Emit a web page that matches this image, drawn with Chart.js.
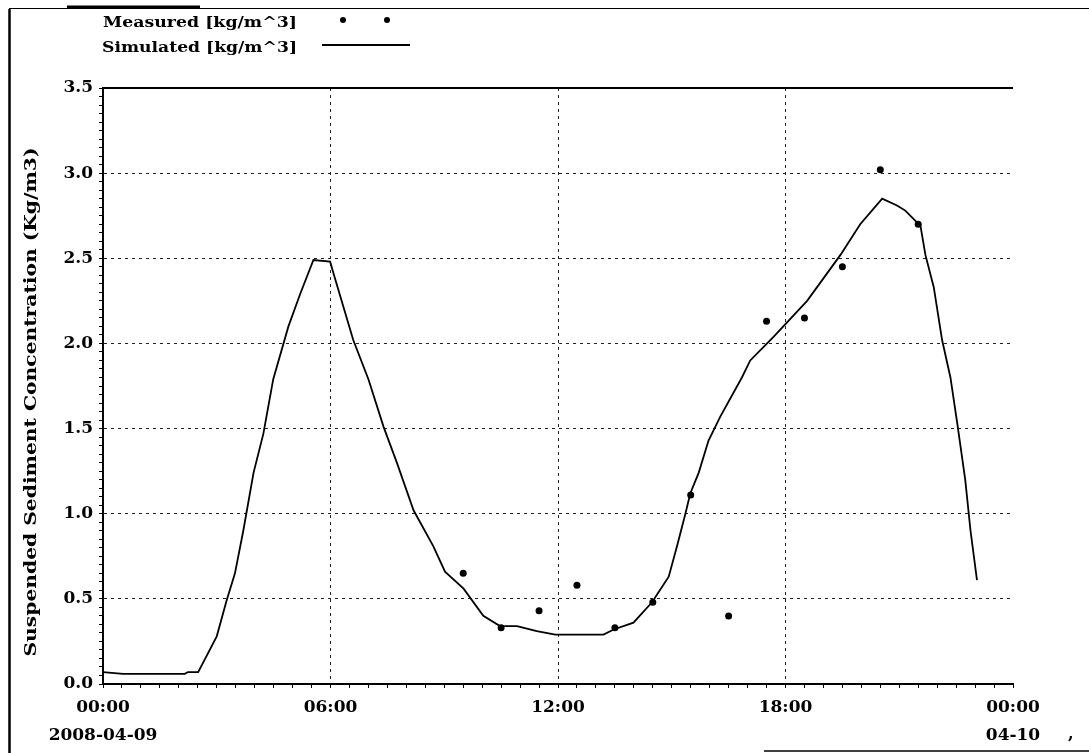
<!DOCTYPE html>
<html><head><meta charset="utf-8">
<script src="https://cdn.jsdelivr.net/npm/chart.js@4/dist/chart.umd.min.js"></script>
<style>html,body{margin:0;padding:0;background:#fff;}canvas{display:block}</style>
</head><body>
<canvas id="c" width="1089" height="753"></canvas>
<script>
// ---- data (hours since 2008-04-09 00:00) ----
const simHours  = [0,0.53,2.16,2.24,2.51,3.00,3.26,3.48,3.70,3.97,4.23,4.49,4.89,5.20,5.55,5.99,6.08,6.60,7.00,7.40,7.75,8.19,8.71,9.02,9.51,10.03,10.47,10.92,11.44,11.93,13.20,13.47,13.99,14.48,14.92,15.14,15.36,15.49,15.71,15.97,16.28,16.85,17.07,17.69,18.57,19.45,19.97,20.55,20.94,21.16,21.56,21.69,21.91,22.13,22.35,22.53,22.74,22.88,23.05];
const simValues = [0.07,0.06,0.06,0.07,0.07,0.28,0.49,0.65,0.90,1.24,1.47,1.79,2.10,2.29,2.49,2.48,2.41,2.02,1.79,1.51,1.30,1.02,0.81,0.66,0.56,0.40,0.34,0.34,0.31,0.29,0.29,0.32,0.36,0.48,0.63,0.81,1.00,1.12,1.24,1.43,1.57,1.80,1.90,2.04,2.25,2.52,2.70,2.85,2.81,2.78,2.69,2.52,2.33,2.02,1.80,1.53,1.20,0.90,0.61];
const measHours  = [9.5,10.5,11.5,12.5,13.5,14.5,15.5,16.5,17.5,18.5,19.5,20.5,21.5];
const measValues = [0.65,0.33,0.43,0.58,0.33,0.48,1.11,0.40,2.13,2.15,2.45,3.02,2.70];
const xTickHours   = [0,6,12,18,24];
const xTimeLabels  = ['00:00','06:00','12:00','18:00','00:00'];
const xDateLabels  = ['2008-04-09','','','','04-10'];
const yTickValues  = [0,0.5,1.0,1.5,2.0,2.5,3.0,3.5];
const yTitle = 'Suspended Sediment Concentration (Kg/m3)';
const seriesNames = ['Measured [kg/m^3]','Simulated [kg/m^3]'];

const FONT = 'DejaVu Serif';
const near = (v, arr) => arr.findIndex(a => Math.abs(a - v) < 1e-6);

function fitText(ctx, text, x, y, width, align) {
  const w = ctx.measureText(text).width;
  const sx = width / w;
  ctx.save();
  ctx.translate(x, y);
  ctx.scale(sx, 1);
  ctx.textAlign = align;
  ctx.fillText(text, 0, 0);
  ctx.restore();
}

const decor = {
  id: 'decor',
  afterDraw(chart) {
    const ctx = chart.ctx, a = chart.chartArea;
    ctx.save();
    ctx.strokeStyle = '#000'; ctx.fillStyle = '#000';
    // top edge of plot
    ctx.lineWidth = 2;
    ctx.beginPath(); ctx.moveTo(a.left - 1, a.top); ctx.lineTo(a.right, a.top); ctx.stroke();
    // outer frame fragments
    ctx.lineWidth = 2.5;
    ctx.beginPath(); ctx.moveTo(9.5, 9); ctx.lineTo(9.5, 753); ctx.stroke();
    ctx.lineWidth = 1;
    ctx.beginPath(); ctx.moveTo(9, 8.5); ctx.lineTo(1089, 8.5); ctx.stroke();
    ctx.lineWidth = 3;
    ctx.beginPath(); ctx.moveTo(67, 7); ctx.lineTo(200, 7); ctx.stroke();
    ctx.lineWidth = 1.5;
    ctx.beginPath(); ctx.moveTo(764, 751); ctx.lineTo(1089, 751); ctx.stroke();
    // y axis title
    ctx.font = 'bold 16px "' + FONT + '"';
    ctx.textBaseline = 'middle';
    ctx.save();
    ctx.translate(32, 402);
    ctx.rotate(-Math.PI / 2);
    fitText(ctx, yTitle, 0, 0, 509, 'center');
    ctx.restore();
    // legend
    ctx.font = 'bold 14px "' + FONT + '"';
    fitText(ctx, seriesNames[0], 297, 23, 194, 'right');
    fitText(ctx, seriesNames[1], 297, 48, 195, 'right');
    [343, 387].forEach(x => { ctx.beginPath(); ctx.arc(x, 20, 3, 0, Math.PI * 2); ctx.fill(); });
    ctx.lineWidth = 2;
    ctx.beginPath(); ctx.moveTo(322, 45); ctx.lineTo(410, 45); ctx.stroke();
    // stray comma
    ctx.font = 'bold 16px "' + FONT + '"';
    ctx.textAlign = 'left';
    ctx.fillText(',', 1068, 735);
    ctx.restore();
  }
};

new Chart(document.getElementById('c'), {
  type: 'scatter',
  data: {
    datasets: [
      {
        label: seriesNames[1],
        data: simHours.map((h, i) => ({x: h, y: simValues[i]})),
        showLine: true, borderColor: '#000', borderWidth: 1.8,
        pointRadius: 0, tension: 0, fill: false, order: 2
      },
      {
        label: seriesNames[0],
        data: measHours.map((h, i) => ({x: h, y: measValues[i]})),
        showLine: false, backgroundColor: '#000', borderColor: '#000',
        pointRadius: 3.5, pointBorderWidth: 0, order: 1
      }
    ]
  },
  options: {
    responsive: false, animation: false, devicePixelRatio: 1,
    layout: {padding: {top: 88, left: 10, right: 76, bottom: 0}},
    plugins: {legend: {display: false}, tooltip: {enabled: false}},
    scales: {
      x: {
        type: 'linear', min: 0, max: 24,
        afterFit(s) { s.height = 69; },
        ticks: {
          stepSize: 0.5, autoSkip: false, maxRotation: 0, padding: 6,
          color: '#000', font: {family: FONT, weight: 'bold', size: 17, lineHeight: 1.65},
          callback(v) {
            const i = near(v, xTickHours);
            if (i < 0) return '';
            return xDateLabels[i] ? [xTimeLabels[i], xDateLabels[i]] : xTimeLabels[i];
          }
        },
        grid: {
          drawOnChartArea: true, lineWidth: 1, tickLength: 4, tickColor: '#000', tickWidth: 1,
          color: c => { const v = c.tick ? c.tick.value : -1; return (v > 0 && v < 24 && near(v, xTickHours) >= 0) ? '#222' : 'rgba(0,0,0,0)'; }
        },
        border: {display: true, color: '#000', width: 2, dash: [3, 4]}
      },
      y: {
        type: 'linear', min: 0, max: 3.5,
        afterFit(s) { s.width = 93; },
        ticks: {
          stepSize: 0.05, autoSkip: false, padding: 6,
          color: '#000', font: {family: FONT, weight: 'bold', size: 17},
          callback(v) { const i = near(v, yTickValues); return i < 0 ? '' : yTickValues[i].toFixed(1); }
        },
        grid: {
          drawOnChartArea: true, lineWidth: 1, tickLength: 4, tickColor: '#000', tickWidth: 1,
          color: c => { const v = c.tick ? c.tick.value : -1; return (v > 0.01 && v < 3.49 && near(v, yTickValues) >= 0) ? '#222' : 'rgba(0,0,0,0)'; }
        },
        border: {display: true, color: '#000', width: 2, dash: [3, 4]}
      }
    }
  },
  plugins: [decor]
});
</script>
</body></html>
